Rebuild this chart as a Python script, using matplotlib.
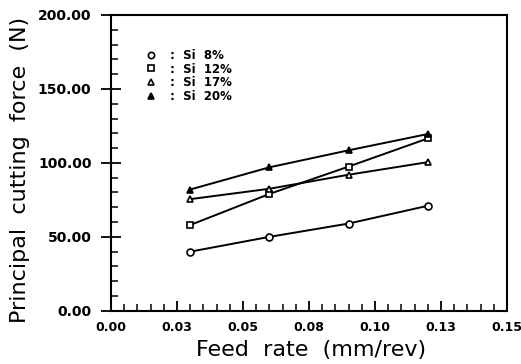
import matplotlib
matplotlib.use("Agg")
import matplotlib.pyplot as plt
from matplotlib.lines import Line2D
from matplotlib.ticker import MultipleLocator

# feed rate (mm/rev)
feed = [0.030, 0.060, 0.090, 0.120]
# principal cutting force (N) per Si content
si8 = [40.0, 50.0, 59.0, 71.0]
si12 = [58.0, 79.0, 97.5, 116.5]
si17 = [75.5, 82.5, 92.0, 100.5]
si20 = [82.0, 97.0, 108.5, 119.5]

series_labels = [":  Si  8%", ":  Si  12%", ":  Si  17%", ":  Si  20%"]
xticks = [0.0, 0.025, 0.05, 0.075, 0.10, 0.125, 0.15]
xtick_labels = ["0.00", "0.03", "0.05", "0.08", "0.10", "0.13", "0.15"]
yticks = [0, 50, 100, 150, 200]
ytick_labels = ["0.00", "50.00", "100.00", "150.00", "200.00"]

plt.rcParams['font.family'] = ['DejaVu Sans']

fig = plt.figure(figsize=(5.21, 3.64), dpi=100)
ax = fig.add_axes([0.213, 0.146, 0.760, 0.813])

styles = [
    dict(marker='o', mfc='white'),
    dict(marker='s', mfc='white'),
    dict(marker='^', mfc='white'),
    dict(marker='^', mfc='black'),
]
for ys, st in zip([si8, si12, si17, si20], styles):
    ax.plot(feed, ys, color='black', lw=1.4, ms=5, mec='black', mew=1.2, **st)

ax.set_xlim(0, 0.15)
ax.set_ylim(0, 200)
ax.set_xticks(xticks)
ax.set_xticklabels(xtick_labels, fontsize=9, fontweight='bold')
ax.set_yticks(yticks)
ax.set_yticklabels(ytick_labels, fontsize=10, fontweight='bold')
ax.xaxis.set_minor_locator(MultipleLocator(0.005))
ax.yaxis.set_minor_locator(MultipleLocator(10))
ax.tick_params(axis='y', which='major', direction='inout', length=14, width=1.3, pad=7)
ax.tick_params(axis='x', which='major', direction='in', length=7, width=1.3, pad=7)
ax.tick_params(which='minor', direction='in', length=5, width=1.1)
for s in ax.spines.values():
    s.set_linewidth(1.5)

ax.set_xlabel("Feed  rate  (mm/rev)", fontsize=16)
ax.set_ylabel("Principal  cutting  force  (N)", fontsize=16)
ax.xaxis.set_label_coords(0.505, -0.1)
ax.yaxis.set_label_coords(-0.205, 0.475)

handles = [Line2D([], [], color='black', ls='none', ms=4.5, mec='black', mew=1.2, **st)
           for st in styles]
ax.legend(handles, series_labels, loc='upper left', bbox_to_anchor=(0.075, 0.905),
          frameon=False, handlelength=0.8, handletextpad=1.2, labelspacing=0.05,
          borderpad=0, prop={'size': 8.5, 'weight': 'bold'})

fig.savefig("out.png", dpi=100)
